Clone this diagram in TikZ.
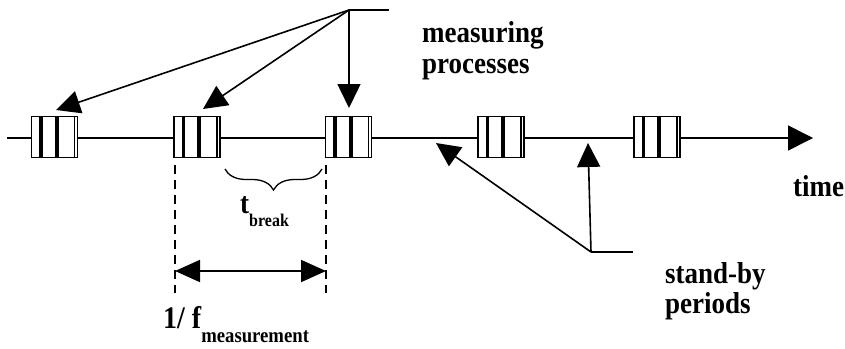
\documentclass[tikz,border=0pt]{standalone}
\usepackage{fontspec}
\setmainfont{Liberation Serif}
\usetikzlibrary{arrows.meta,decorations.pathreplacing}
\newcommand{\vstr}[1]{\scalebox{1}[1.12]{#1}}
\tikzset{
  mbox/.style={draw, line width=1.2pt, fill=white, minimum width=46pt, minimum height=41pt, inner sep=0pt,
    path picture={
      \fill[black] ([xshift=7.5pt]path picture bounding box.north west) rectangle ([xshift=11pt]path picture bounding box.south west);
      \fill[black] ([xshift=23pt]path picture bounding box.north west) rectangle ([xshift=27pt]path picture bounding box.south west);
      \fill[black] ([xshift=42pt]path picture bounding box.north west) rectangle ([xshift=43.5pt]path picture bounding box.south west);
    }},
  arr/.style={line width=1.6pt, -{Triangle[length=24pt,width=23pt]}},
  dbl/.style={line width=1.8pt, {Triangle[length=25pt,width=22pt]}-{Triangle[length=25pt,width=22pt]}},
  plain/.style={line width=1.6pt},
  dsh/.style={line width=1.4pt, dash pattern=on 9pt off 6pt},
  lbl/.style={inner sep=0pt, anchor=base west, font=\fontsize{27}{31}\selectfont\bfseries},
}
\begin{document}
\begin{tikzpicture}[x=1pt,y=-1pt]
\useasboundingbox (0,0) rectangle (845,348);
% timeline
\coordinate (tl0) at (7,138);
\coordinate (tl1) at (813,138);
\draw[line width=1.6pt, -{Triangle[length=25pt,width=25pt]}] (tl0) -- (tl1);
% boxes
\node[mbox] (b1) at (54.5,137) {};
\node[mbox] (b2) at (197,137) {};
\node[mbox] (b3) at (348.5,137) {};
\node[mbox] (b4) at (501,137) {};
\node[mbox] (b5) at (657,137) {};
% measuring processes
\coordinate (hub) at (349,10);
\coordinate (hubend) at (389,10);
\coordinate (m1) at (56,110);
\coordinate (m2) at (203,109);
\coordinate (m3) at (349,108);
\draw[plain] (hub) -- (hubend);
\draw[arr] (hub) -- (m1);
\draw[arr] (hub) -- (m2);
\draw[arr] (hub) -- (m3);
\node[lbl] (mp1) at (422,42) {\vstr{measuring}};
\node[lbl] (mp2) at (422,73) {\vstr{processes}};
% stand-by periods
\coordinate (sb) at (591,252);
\coordinate (sbend) at (633,252);
\coordinate (s1) at (436,143);
\coordinate (s2) at (588,143);
\draw[plain] (sb) -- (sbend);
\draw[arr] (sb) -- (s1);
\draw[arr] (sb) -- (s2);
\node[lbl] (sp1) at (665,283) {\vstr{stand-by}};
\node[lbl] (sp2) at (665,313) {\vstr{periods}};
% time
\node[lbl] (time) at (793,196) {\vstr{time}};
% dashed lines and period arrow
\coordinate (d1a) at (175,165);
\coordinate (d1b) at (175,293);
\coordinate (d2a) at (326,165);
\coordinate (d2b) at (326,293);
\draw[dsh] (d1a) -- (d1b);
\draw[dsh, line width=1.1pt] (d2a) -- (d2b);
\coordinate (pa) at (175,271);
\coordinate (pb) at (326,271);
\draw[dbl] (pa) -- (pb);
% brace
\coordinate (br1) at (322,169);
\coordinate (br0) at (225,169);
\draw[line width=1.3pt, decorate, decoration={brace, amplitude=21pt}] (br1) -- (br0);
\node[lbl] (tb) at (240,213) {\vstr{t\raisebox{-12pt}{\fontsize{16}{16}\selectfont\bfseries break}}};
\node[lbl] (fm) at (163,328) {\vstr{\fontsize{28}{30}\selectfont 1/ f\raisebox{-12.5pt}{\fontsize{18.7}{20}\selectfont\bfseries measurement}}};
\end{tikzpicture}
\end{document}
